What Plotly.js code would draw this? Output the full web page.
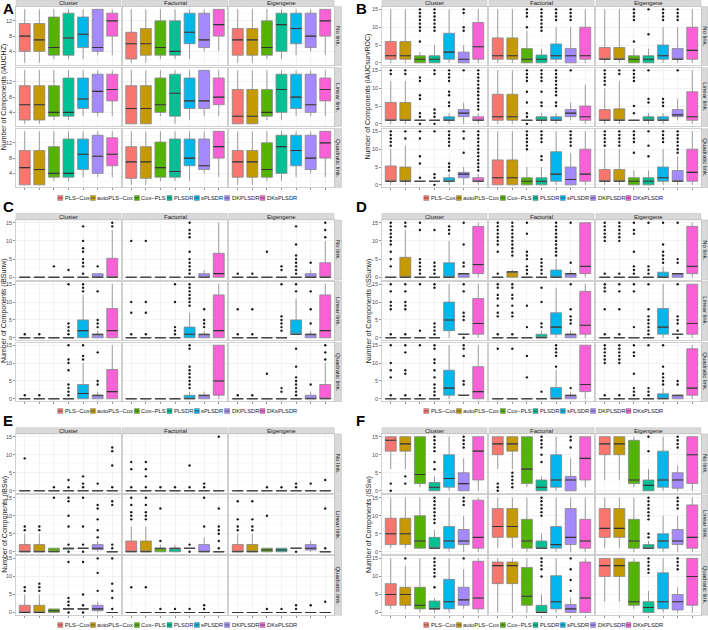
<!DOCTYPE html>
<html><head><meta charset="utf-8">
<script src="https://cdn.plot.ly/plotly-3.0.1.min.js"></script>
<style>html,body{margin:0;padding:0;background:#fff}#chart{width:708px;height:630px}</style>
</head><body><div id="chart"></div>
<script>
// ---------------- DATA ----------------
const methods = ["PLS\u2212Cox","autoPLS\u2212Cox","Cox\u2212PLS","PLSDR","sPLSDR","DKPLSDR","DKsPLSDR"];
const colors = ["#F8766D","#C49A00","#53B400","#00C094","#00B6EB","#A58AFF","#FB61D7"];
const designs = ["Cluster","Factorial","Eigengene"];
const links = ["No link.","Linear link.","Quadratic link."];
const panelLetters = ["A","B","C","D","E","F"];
const yTitles = ["Number of Components (iAUCHZ)","Number of Components (iAUCsurvROC)",
  "Number of Components (iBSunw)","Number of Components (iSSunw)",
  "Number of Components (iBSw)","Number of Components (iSSw)"];
const yTicksA = [4,8,12];
const yTicksOther = [0,5,10,15];

// each facet (row-major: No/Linear/Quadratic x Cluster/Factorial/Eigengene): 7 boxes [lowerfence,q1,median,q3,upperfence]
const Z = [0,0,0,0,0];
const NONE7 = [[],[],[],[],[],[],[]];

const boxA = [
 [[1,4,8,11.3,15],[1,4,7,11.3,15],[2,3,5,13,15],[2,3,7.5,14,15],[2,5,8.5,13,15],[3,4,5,15,15],[3,8,12,14,15]],
 [[1,2,6,9,15],[1,3,6,10,15],[2,3,5,12,15],[2,3,4,12,15],[2,6,9,14,15],[4,5,7,14,15],[4,8,11,15,15]],
 [[1,3,7,10,15],[1,3,7,10,15],[2,3,5,12,15],[2,4,11,14,15],[3,6,10,14,15],[4,5,8,14,15],[3,8,12,15,15]],
 [[1,2,6,11,15],[1,2,6,11,15],[2,3,4,11,15],[2,3,4,13,15],[3,5,7.5,13,15],[3,4,9.5,14,15],[3,7,10,14,15]],
 [[1,1,5,11,15],[1,1,5,11,15],[3,4,6,13,15],[1,3,9,14,15],[2,5,7,13,15],[3,5,7,15,15],[3,6,8,13,15]],
 [[1,1,3,10,15],[1,1,3,10,15],[2,3,4,10,15],[2,4,10,14,15],[3,5,8,14,15],[3,4,6,14,15],[3,7,10,13,15]],
 [[1,1,5.5,10,15],[1,1,5,10,15],[2,3,4,11,15],[2,3,4,13,15],[3,5,9,13,15],[3,4,8.5,14,15],[3,6,9,13.3,15]],
 [[1,2.7,7,11,15],[1,2.7,7,11,15],[2,3,5.5,12.2,15],[2,3,4.5,13,15],[2,6,8,13,15],[4,5,6,13,15],[3,8,11,15,15]],
 [[1,3,7,10,15],[1,3,7,10,15],[2,3,5,12,15],[2,4,11,14,15],[3,6,10,14,15],[4,5,8,14,15],[3,8,12,15,15]]
];
const outA = [NONE7,NONE7,NONE7,NONE7,NONE7,NONE7,NONE7,NONE7,NONE7];

const boxB = [
 [[0,1,2,6,15],[0,1,2,6,15],[0,0,1,2,3],[0,0,1,2,5],[0,1,3,8.3,15],[0,0,1,3,5],[0,1,4.5,11.3,15]],
 [[0,1,2,7,15],[0,1,2,7,15],[0,0,1,4,9],[0,0,1,2.2,4],[0,1,2,5.3,10],[0,0,2,4,10],[0,1,2,10,15]],
 [[0,1,1,4.3,15],[0,1,1,4.3,15],[0,0,1,2,4],[0,0,1,2,4],[0,1,2,5,10],[0,1,1,4,10],[0,1,3.5,10,15]],
 [[0,1,1,6,12],[0,1,1,6,12],[1,1,1,1,1],[1,1,1,1,1],[0,1,1,2,3],[0,2,3,4,6],[0,1,1,2,3]],
 [[0,1,2,8.3,15],[0,1,2,8.3,15],[1,1,1,1,1],[0,1,1,2,3],[0,1,1,2,3],[1,2,3,4,6],[0,1,2,5,11]],
 [[0,1,1,4,10],[0,1,1,4.2,12],[1,1,1,1,1],[0,1,1,2,3],[0,1,1,2,3],[1,2,2.5,4,7],[0,1,2,9,15]],
 [[0,1,1,5.3,10],[0,1,1,5,11],[1,1,1,1,1],[1,1,1,1,1],[0,1,1,2,3],[0,2,3,3.5,5],[0,1,1,2,3]],
 [[0,0,2,7,15],[0,0,2,7,15],[0,0,1,2,5],[0,0,1,2,5],[0,1,3,9.3,15],[0,0,1.5,5,9],[0,1,3,10,15]],
 [[0,1,1,4.3,10],[0,1,1,4.3,10],[0,0,1,2,4],[0,0,1,2,4],[0,1,2,5,10],[0,1,1,4,8],[0,1,3.5,10,15]]
];
const outB = [
 [[],[],[6,9,10,11,12,13,14,15],[9,10,11,12,13,14,15],[],[9,10,14,15],[]],
 [[],[],[10,13,14,15],[9,10,11,12,13,14,15],[12,13,14,15],[12,13,14,15],[]],
 [[],[],[6,12,13,14,15],[8,15],[12,13,14,15],[12,13,14,15],[]],
 [[14,15],[14,15],[0,2,3,7,8,12,13],[0,2,3,4,14,15],[5,6,8,9,12,13,14,15],[15],[4,5,6,7,8,9,10,11,12,13,14,15]],
 [[],[],[0,2,3,6,9,12,13,14,15],[5,6,9,12,13,14,15],[5,6,8,9,10,11,12,13,14,15],[15],[]],
 [[11,12,13,14,15],[14,15],[3,5,12,13,14,15],[6,7,15],[5,6,7],[15],[]],
 [[11,12,13,14,15],[13,15],[2,6,8,13,15],[0,2,3,15],[4,5,6,11,12,13,14,15],[9,13,15],[4,5,6,7,8,9,10,11,12,13,14,15]],
 [[],[],[10,11,12,13,14,15],[7,8,12,13,14,15],[],[11,12,13,14,15],[]],
 [[11,12,13,14,15],[11,12,13,14,15],[9,12,13,14,15],[8,11,15],[12,13,14,15],[9,10,11,12,13,14,15],[]]
];

const boxC = [
 [Z,Z,Z,Z,Z,[0,0,0,1,1],[0,0,0,5.2,13]],
 [Z,Z,Z,Z,Z,[0,0,0,1,2],[0,0,1,6.6,15]],
 [Z,Z,Z,Z,Z,[0,0,0,1,2],[0,0,0,4,10]],
 [Z,Z,Z,Z,[0,0,2,5,12],[0,0,1,1,2],[0,0,2,8.2,15]],
 [Z,Z,Z,Z,[0,0,1,3,7],[0,0,1,1,2],[0,0,2,12,15]],
 [Z,Z,Z,Z,[1,1,1,5,11],[0,0,1,1,2],[0,0,2,12,15]],
 [Z,Z,Z,Z,[0,0,1.5,4,10],[0,0,1,1,2],[0,0,2,8.2,15]],
 [Z,Z,Z,Z,[0,0,0,1,2],[0,0,1,1,2],[0,1,5,15,15]],
 [Z,Z,Z,Z,Z,[0,0,0,1,2],[0,0,0,4,10]]
];
const outC = [
 [[],[],[3],[2],[1,3,4,5,7,8,10,14],[3],[14,15]],
 [[10],[10],[],[],[1,2,3,4,5,7,11,12,13,15],[],[]],
 [[1],[1],[7],[2,3],[1,2,3,4,5,6,9,14],[4],[11,13,15]],
 [[1],[1],[],[1,2,3,4,15],[13,14,15],[3,4,5,13],[]],
 [[1,7,10],[1,7,10],[],[1,2,3,10,15],[9,10,11,12,13,14,15],[3,4,5,8],[]],
 [[1,8],[1,8],[],[2,3,4,5,6,15],[13,15],[4,8,13],[]],
 [[1],[1],[],[1,2,3,4,8,10,11,15],[11,12,15],[4,5,13],[]],
 [[],[],[],[],[3,4,5,6,7,8,9,14,15],[],[]],
 [[1],[1],[7],[2,3],[1,2,3,4,5,6,9,14],[4],[11,13,15]]
];

const boxD = [
 [Z,[0,0,0,5.5,13],Z,Z,[0,0,0,4,10],[0,0,1,1,1],[0,1,3.5,14,15]],
 [Z,[0,0,1.5,1.5,2],Z,Z,[0,0,0,2,5],[0,0,1,1,2],[0,1,3,15,15]],
 [Z,Z,Z,Z,[0,0,0,1.4,3],[0,0,1,1,1],[0,1,3,14,15]],
 [Z,Z,Z,Z,[0,2,5,10,15],[1,1,1,1,1],[0,1,4,11,15]],
 [Z,Z,Z,[0,0,0,1,2],[0,1,3,7,14],[0,0,1,1,2],[0,1,3.5,13,15]],
 [Z,Z,Z,Z,[0,1,3,8.2,15],[1,1,1,1,1],[0,1,4,15,15]],
 [Z,Z,Z,Z,[0,1,3,8,15],[1,1,1,1,1],[0,0,2,9,15]],
 [Z,Z,Z,Z,[0,0,0,3.2,8],[0,0,1,1,2],[0,2,4,15,15]],
 [Z,Z,Z,Z,[0,0,0,1.4,3],[0,0,1,1,1],[0,1,3,14,15]]
];
const outD = [
 [[3,5,7,9,10,11,12,13,14,15],[14,15],[1,2,3,4,5,13,15],[1,2,3,4,13],[12,13,14],[3,4,9,15],[]],
 [[1,7,9,10,11,12,13,14,15],[6,7,8,9,10,11,12,13,14,15],[1,2,3,5,6,7,12,15],[1,2,3,4,5],[6,7,8,9,10,11,12,13,14,15],[4,15],[]],
 [[1,10,11,12,13,14,15],[1,10,11,12,13,14,15],[1,2,3,7,12,13,15],[1,2,3,15],[4,5,6,7,9,15],[4,5,15],[]],
 [[1,8,9,10,13,15],[1,8,9,10,13,15],[2,15],[1,2,3,4,14,15],[],[0,5,6,7,13,15],[]],
 [[1,6,7,9,11,12,14,15],[1,6,7,9,11,12,14,15],[3,9],[3,4,10,14],[],[4,5,6,8,15],[]],
 [[1,8,13,14,15],[1,8,13,15],[3,13,15],[1,2,3,4,5,6,8,15],[],[0,2,4,5,6,15],[]],
 [[1,6,8,10,15],[1,7,8,13,15],[1,15],[1,2,3,4,6,8,10,11,14,15],[],[4,5,12,14,15],[]],
 [[14],[14],[6,12],[2],[9,12,13,14,15],[3],[]],
 [[1,10,11,12,13,14,15],[1,10,11,12,13,14,15],[1,2,3,7,12,13,15],[1,2,3,15],[4,5,6,7,9,15],[4,5],[]]
];

const boxE = [
 [Z,Z,Z,Z,Z,Z,Z],
 [Z,Z,Z,Z,Z,Z,Z],
 [Z,Z,Z,Z,Z,Z,Z],
 [[0,0,0,2,5],[0,0,0,2,5],[0,0,0,1,1],[0.7,0.7,1,1,1],[1,1,1,1,1],[0,0.6,1,2,3],Z],
 [[0,0,0,3,7],[0,0,0,3,7],[0,0,1,1,2],[0,0,1,1,2],[1,1,1,1,1],[0,0,0,2,4],Z],
 [[0,0,0,2,5],[0,0,0,2,5],[0,0,0.5,1,1],[0,0,0.5,1,1],[1,1,1,1,1],[0,0.5,1,2,3],Z],
 [[0,0,0,2,5],[0,0,0,2,5],[0,0,0.5,1,1],[1,1,1,1,1],[1,1,1,1,1],[0,0.5,1,2,3],Z],
 [Z,Z,Z,Z,Z,Z,Z],
 [Z,Z,Z,Z,Z,Z,Z]
];
const outE = [
 [[9],[],[1],[1,3],[1,2,4],[2],[1,7,11,12]],
 [[1,6,8],[1,4,6,8],[1],[1],[1,7],[1,2],[15]],
 [[],[],[1],[1],[1,2],[2],[3]],
 [[6,7],[6,7],[15],[0,2,7,10,14,15],[0,2,7,15],[4,6,9,12,13],[1,2,13,14]],
 [[9,10,11,13,15],[9,10,11,13,15],[3,12],[],[0,2],[7,15],[1,3,5,6,7,12]],
 [[6,7,9,14],[6,7,9,14],[10],[],[0],[],[1,12]],
 [[6,7],[6,7,8],[],[0,2,3,4,14],[0,2,5,14],[6,11,15],[1,4,6,8,15]],
 [[7],[7],[1],[1],[1],[1,2],[]],
 [[],[],[1],[1],[1,2],[2],[3]]
];

const boxF = [
 [[6,11,14,15,15],[6,11,13,15,15],[1,2,4.5,15,15],[0,0,1,2.3,4],[0,1,3.4,10,15],[0,0,2,5,9],[0,3,11,15,15]],
 [[6,10,13,15,15],[6,11,13,15,15],[1,2,6,15,15],[0,0,1,3,4],[0,1,3,10,15],[0,0,3,4,9],[1,3,9,15,15]],
 [[3,10,13,15,15],[3,10,13,15,15],[1,2,3,14,15],[0,0,1.5,3,6],[0,1,3,11,15],[0,0.7,3,5,7],[0,2,10,15,15]],
 [[1,2,5,9.3,15],[1,2,5,9.3,15],[1,1,3,10,15],[1,1,1,4,6],[0,1,3,7,15],[0,2,3,6.2,10],[0,1,4,14.3,15]],
 [[1,4,7,12,15],[1,4,7,12,15],[0,1,3,9,15],[1,1,1,3,5],[0,1,2,7,15],[0,2,4,12,15],[0,1,3,9,15]],
 [[1,4,6.5,12,15],[1,4,6.5,12,15],[0,1,3,9,15],[1,1,1,2,3],[0,1,3,5,10],[0,2,3,6.2,10],[0,1,4,13,15]],
 [[1,2,5,8,15],[1,2,5,7,13],[0,1,2,7,15],[0,1,1,3.2,4],[0,1,3,9.2,15],[1,2,3.5,7,12],[0,1,4,14.2,15]],
 [[0,8,13,14,15],[0,8,13,14,15],[0,2,4.5,12.5,15],[0,0,0,2,5],[0,1,3,10.2,15],[0,0,1,2.2,4],[0,0,4,14,15]],
 [[3,10,13,15,15],[3,10,13,15,15],[1,2,3,14,15],[0,0,1.4,3,6],[0,1,3,11,15],[0,0.7,3,5,7],[0,2,10,15,15]]
];
const outF = [
 [[0,2],[2,4],[],[6,8,11,12,13,14,15],[],[12,13,14,15],[]],
 [[0,1,2],[1,2,3,4,5],[],[8,10,12,13,14,15],[],[12,14,15],[]],
 [[],[],[],[11,15],[],[12,13,14,15],[]],
 [[],[],[],[8,9,10,11,12,13,14,15],[],[13,14,15],[]],
 [[],[],[],[10,11,12,13,14,15],[],[],[]],
 [[],[],[],[4,5,9,10,11,12,13,14,15],[],[12,13,14,15],[]],
 [[],[15],[],[7,10,11,12,13,14,15],[],[15],[]],
 [[],[],[],[10,12,13,14,15],[],[6,9,12,15],[]],
 [[],[],[],[11,12,13,14,15],[],[12,13,14,15],[]]
];

const allBoxes = [boxA, boxB, boxC, boxD, boxE, boxF];
const allOut = [outA, outB, outC, outD, outE, outF];

// ---------------- GEOMETRY (pixels) ----------------
const W = 708, H = 630;
const PX = v => v / W, PY = v => 1 - v / H;
const colX = [[[16,121],[122.5,227.5],[229,334]], [[382,487],[489,594],[596,701]]];
const stripRX = [[334.5,341.5],[701.5,708]];
const rowY = [[[6.7,65.5],[67.7,126.5],[128.7,187.5]],
              [[220,280],[281.5,340.5],[342.5,401.5]],
              [[434,493.5],[495,554.5],[555.7,615.2]]];
const stripTY = [[0.5,6.5],[213.5,219.8],[427.8,433.8]];
const legendY = [198, 411, 625];
const legendCX = [177, 543];
const letterX = [1, 354];
const letterY = [9, 207, 420];
const titleX = [4.2, 368.5];

const FONT = 'Liberation Sans, Arial, sans-serif';
const layout = {
  width: W, height: H, margin: {l:0, r:0, t:0, b:0},
  paper_bgcolor: '#ffffff', plot_bgcolor: '#ffffff', showlegend: false,
  font: {family: FONT, color: '#1a1a1a'},
  shapes: [], annotations: []
};
const traces = [];
const medTraces = [];
const outTraces = [];
const BW = 0.75;

for (let p = 0; p < 6; p++) {
  const side = p % 2, band = Math.floor(p / 2);
  const boxes = allBoxes[p], outs = allOut[p];
  for (let r = 0; r < 3; r++) {
    for (let c = 0; c < 3; c++) {
      const n = p * 9 + r * 3 + c + 1;
      const xs = n === 1 ? '' : String(n);
      const [x0, x1] = colX[side][c];
      const [y0, y1] = rowY[band][r];
      layout['xaxis' + xs] = {
        domain: [PX(x0), PX(x1)], anchor: 'y' + xs, range: [-0.6, 6.6],
        tickvals: [0,1,2,3,4,5,6], showticklabels: false,
        ticks: r === 2 ? 'outside' : '', ticklen: 2, tickwidth: 0.6, tickcolor: '#4d4d4d',
        showgrid: true, gridcolor: '#ebebeb', gridwidth: 0.6, zeroline: false,
        showline: true, mirror: true, linecolor: '#c4c4c4', linewidth: 0.8, fixedrange: true
      };
      layout['yaxis' + xs] = {
        domain: [PY(y1), PY(y0)], anchor: 'x' + xs,
        range: p === 0 ? [0.3, 15.7] : [-0.75, 15.75],
        tickvals: p === 0 ? yTicksA : yTicksOther,
        showticklabels: c === 0, ticks: c === 0 ? 'outside' : '', ticklen: 2, tickwidth: 0.6,
        tickcolor: '#4d4d4d', tickfont: {size: 5.5, color: '#4d4d4d', family: FONT},
        showgrid: true, gridcolor: '#ebebeb', gridwidth: 0.6, zeroline: false,
        minor: {tickvals: p === 0 ? [2,6,10,14] : [2.5,7.5,12.5], showgrid: true, gridcolor: '#f5f5f5', gridwidth: 0.5},
        showline: true, mirror: true, linecolor: '#c4c4c4', linewidth: 0.8, fixedrange: true
      };
      const facet = boxes[r * 3 + c];
      const fo = outs[r * 3 + c];
      const mx = [], my = [], ox = [], oy = [];
      for (let m = 0; m < 7; m++) {
        const b = facet[m];
        traces.push({
          type: 'box', xaxis: 'x' + xs, yaxis: 'y' + xs,
          x: [m], lowerfence: [b[0]], q1: [b[1]], median: [b[2]], q3: [b[3]], upperfence: [b[4]],
          fillcolor: colors[m], line: {color: '#858585', width: 0.8},
          width: BW, whiskerwidth: 0, boxpoints: false, hoverinfo: 'skip', showlegend: false
        });
        mx.push(m - BW / 2, m + BW / 2, null);
        my.push(b[2], b[2], null);
        for (const v of fo[m]) { ox.push(m); oy.push(v); }
      }
      medTraces.push({type: 'scatter', mode: 'lines', xaxis: 'x' + xs, yaxis: 'y' + xs,
        x: mx, y: my, line: {color: '#333333', width: 1.1}, hoverinfo: 'skip', showlegend: false});
      if (ox.length) outTraces.push({type: 'scatter', mode: 'markers', xaxis: 'x' + xs, yaxis: 'y' + xs,
        x: ox, y: oy, marker: {size: 2.4, color: '#1a1a1a'}, hoverinfo: 'skip', showlegend: false});

      // right strip
      if (c === 2) {
        const [sx0, sx1] = stripRX[side];
        layout.shapes.push({type: 'rect', xref: 'paper', yref: 'paper', x0: PX(sx0), x1: PX(sx1),
          y0: PY(y1), y1: PY(y0), fillcolor: '#d9d9d9', line: {color: '#c4c4c4', width: 0.6}, layer: 'below'});
        layout.annotations.push({xref: 'paper', yref: 'paper', x: PX((sx0 + sx1) / 2), y: PY((y0 + y1) / 2),
          text: links[r], showarrow: false, textangle: 90, xanchor: 'center', yanchor: 'middle',
          font: {size: 6, color: '#1a1a1a', family: FONT}});
      }
    }
  }
  // top strips
  const [ty0, ty1] = stripTY[band];
  for (let c = 0; c < 3; c++) {
    const [x0, x1] = colX[side][c];
    layout.shapes.push({type: 'rect', xref: 'paper', yref: 'paper', x0: PX(x0), x1: PX(x1),
      y0: PY(ty1), y1: PY(ty0), fillcolor: '#d9d9d9', line: {color: '#c4c4c4', width: 0.6}, layer: 'below'});
    layout.annotations.push({xref: 'paper', yref: 'paper', x: PX((x0 + x1) / 2), y: PY((ty0 + ty1) / 2),
      text: designs[c], showarrow: false, xanchor: 'center', yanchor: 'middle',
      font: {size: 6, color: '#1a1a1a', family: FONT}});
  }
  // letter
  layout.annotations.push({xref: 'paper', yref: 'paper', x: PX(letterX[side]), y: PY(letterY[band]),
    text: '<b>' + panelLetters[p] + '</b>', showarrow: false, xanchor: 'left', yanchor: 'middle',
    font: {size: 15, color: '#000000', family: FONT}});
  // y title
  const rows = rowY[band];
  layout.annotations.push({xref: 'paper', yref: 'paper', x: PX(titleX[side]), y: PY((rows[0][0] + rows[2][1]) / 2),
    text: yTitles[p], showarrow: false, textangle: -90, xanchor: 'center', yanchor: 'middle', borderpad: 0,
    font: {size: 7, color: '#1a1a1a', family: FONT}});
  // legend (drawn)
  const fs = 5.8, key = 5, gapK = 1, gapI = 2;
  const ctx = document.createElement('canvas').getContext('2d');
  ctx.font = fs + 'px "Liberation Sans"';
  const tw = methods.map(t => ctx.measureText(t).width);
  const total = tw.reduce((a, w) => a + key + gapK + w, 0) + gapI * 6;
  let cx = legendCX[side] - total / 2;
  const ly = legendY[band];
  for (let m = 0; m < 7; m++) {
    layout.shapes.push({type: 'rect', xref: 'paper', yref: 'paper', x0: PX(cx), x1: PX(cx + key),
      y0: PY(ly + key / 2), y1: PY(ly - key / 2), fillcolor: colors[m], line: {color: '#858585', width: 0.5}});
    layout.shapes.push({type: 'line', xref: 'paper', yref: 'paper', x0: PX(cx), x1: PX(cx + key),
      y0: PY(ly), y1: PY(ly), line: {color: '#333333', width: 0.6}});
    layout.annotations.push({xref: 'paper', yref: 'paper', x: PX(cx + key + gapK), y: PY(ly),
      text: methods[m], showarrow: false, xanchor: 'left', yanchor: 'middle', borderpad: 0,
      font: {size: fs, color: '#1a1a1a', family: FONT}});
    cx += key + gapK + tw[m] + gapI;
  }
}

Plotly.newPlot('chart', traces.concat(medTraces, outTraces), layout, {staticPlot: true, displayModeBar: false});
</script></body></html>
